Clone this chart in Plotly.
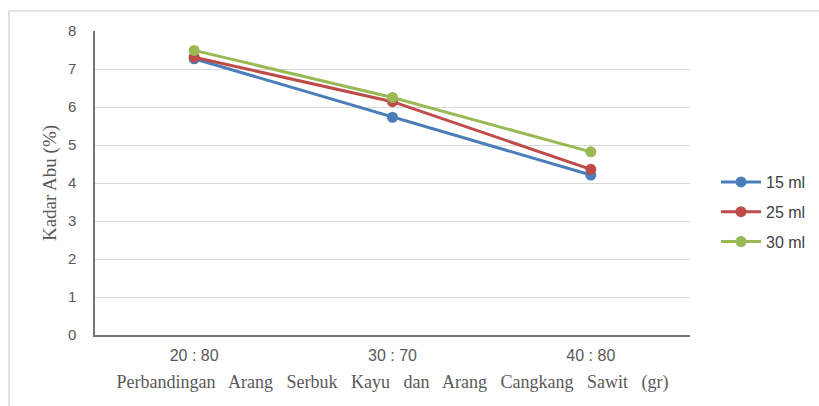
import plotly.graph_objects as go

categories = ["20 : 80", "30 : 70", "40 : 80"]
series_names = ["15 ml", "25 ml", "30 ml"]
v15 = [7.27, 5.73, 4.21]
v25 = [7.31, 6.14, 4.36]
v30 = [7.49, 6.25, 4.82]
y_ticks = [0, 1, 2, 3, 4, 5, 6, 7, 8]

colors = ["#4a7ebb", "#be4b48", "#98b954"]

fig = go.Figure()
for name, vals, c in zip(series_names, [v15, v25, v30], colors):
    fig.add_trace(go.Scatter(
        x=categories, y=vals, name=name, mode="lines+markers", legendgroup=name,
        line=dict(color=c, width=3), marker=dict(color=c, size=11),
    ))

W, H = 819, 406
l, r, t, b = 95, 129, 31, 71
pw, ph = W - l - r, H - t - b

fig.add_shape(type="rect", xref="paper", yref="paper",
              x0=(9 - l) / pw, x1=(W + 5 - l) / pw,
              y0=(H - b - (H + 5)) / ph, y1=(H - b - 11) / ph,
              line=dict(color="#d9d9d9", width=1.5), fillcolor="rgba(0,0,0,0)",
              layer="below")

sp = "   "
xtitle = sp.join(["Perbandingan", "Arang", "Serbuk", "Kayu", "dan", "Arang", "Cangkang", "Sawit", "(gr)"])

fig.update_layout(
    width=W, height=H,
    margin=dict(l=l, r=r, t=t, b=b, autoexpand=False),
    paper_bgcolor="white", plot_bgcolor="white",
    showlegend=True,
    legend=dict(x=(716 - l) / pw, y=(H - b - 212) / ph, xanchor="left", yanchor="middle",
                font=dict(family="Liberation Sans, Arial", size=16, color="#404040"),
                tracegroupgap=6, itemwidth=40, bgcolor="rgba(0,0,0,0)"),
    xaxis=dict(
        type="category", range=[-0.5, 2.5], automargin=False,
        showgrid=False, showline=True, linecolor="#767676", linewidth=1.5,
        ticks="", ticklabelstandoff=5,
        tickfont=dict(family="Liberation Sans, Arial", size=16, color="#595959"),
        title=dict(text=xtitle,
                   font=dict(family="Liberation Serif, Times New Roman", size=18, color="#595959"),
                   standoff=12),
    ),
    yaxis=dict(
        range=[0, 8], tickvals=y_ticks, automargin=False,
        showgrid=True, gridcolor="#d9d9d9", gridwidth=1,
        showline=True, linecolor="#767676", linewidth=1.5,
        ticks="", ticklabelstandoff=14,
        tickfont=dict(family="Liberation Sans, Arial", size=15, color="#595959"),
        title=dict(text="Kadar Abu (%)",
                   font=dict(family="Liberation Serif, Times New Roman", size=19, color="#595959"),
                   standoff=6),
        zeroline=False,
    ),
)

fig.write_html("out.html", config={"displayModeBar": False},
               post_script="document.body.style.margin='0px';")
